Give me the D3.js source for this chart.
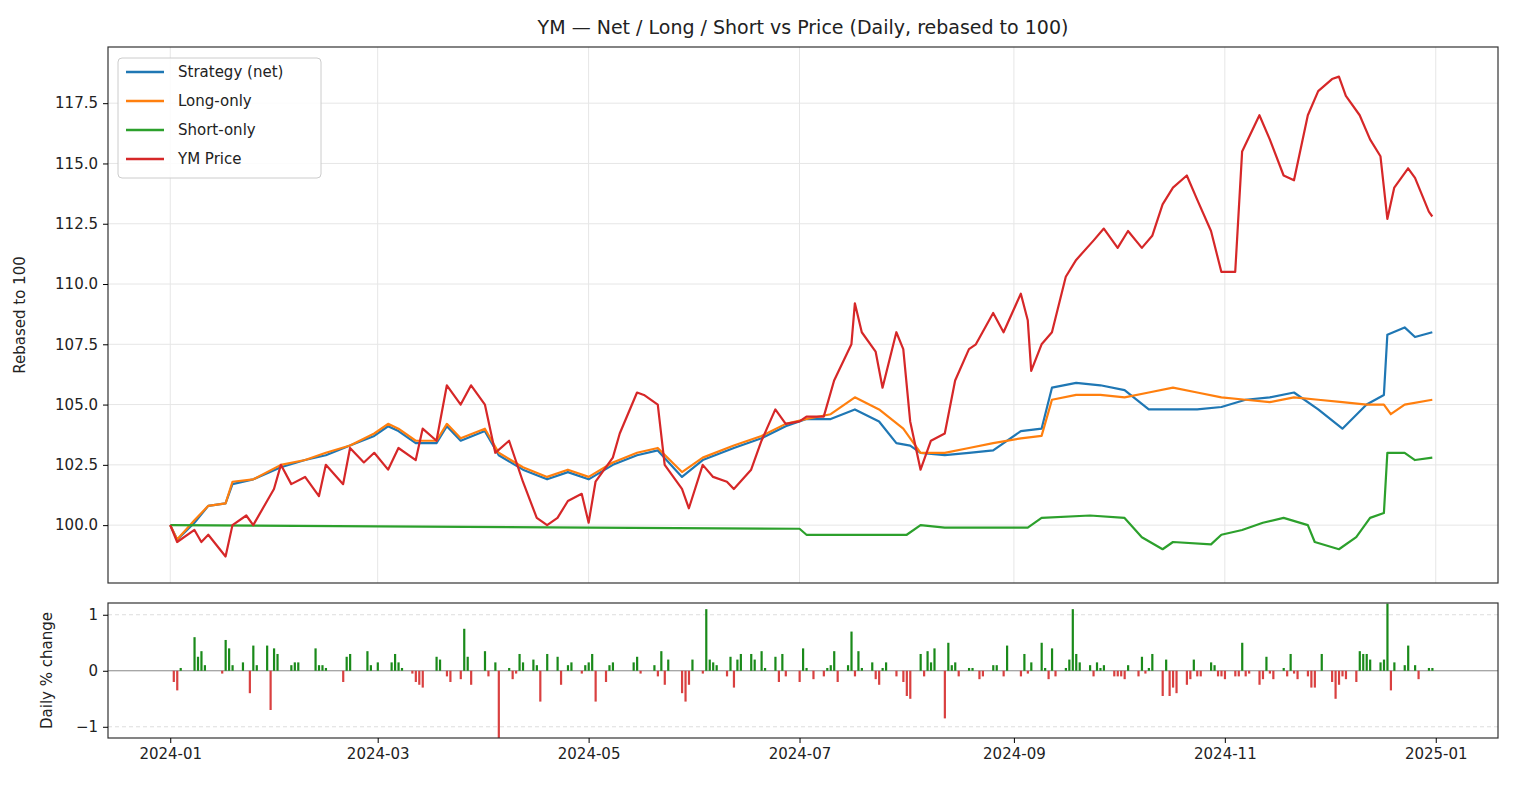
<!DOCTYPE html>
<html>
<head>
<meta charset="utf-8">
<script src="https://cdn.jsdelivr.net/npm/d3@7"></script>
<style>
body { margin: 0; background: #fff; }
svg { font-family: "DejaVu Sans", sans-serif; }
</style>
</head>
<body>
<svg id="chart" width="1524" height="786"></svg>
<script>
// ---- data ----
const priceSeries = [
  ["01-01",100],["01-03",99.3],["01-08",99.8],["01-10",99.3],["01-12",99.6],["01-17",98.7],["01-19",100.0],["01-23",100.4],
  ["01-25",100.0],["01-29",101.0],["01-31",101.5],["02-02",102.5],["02-05",101.7],["02-09",102.0],["02-13",101.2],["02-15",102.5],
  ["02-20",101.7],["02-22",103.2],["02-26",102.6],["02-29",103.0],["03-04",102.3],["03-07",103.2],["03-12",102.7],["03-14",104.0],
  ["03-18",103.5],["03-21",105.8],["03-25",105.0],["03-28",105.8],["04-01",105.0],["04-04",103.0],["04-08",103.5],["04-12",101.8],
  ["04-16",100.3],["04-19",100.0],["04-22",100.3],["04-25",101.0],["04-29",101.3],["05-01",100.1],["05-03",101.8],["05-08",102.8],
  ["05-10",103.8],["05-15",105.5],["05-17",105.4],["05-21",105.0],["05-23",102.5],["05-28",101.5],["05-30",100.7],["06-03",102.5],
  ["06-06",102.0],["06-10",101.8],["06-12",101.5],["06-17",102.3],["06-20",103.5],["06-24",104.8],["06-27",104.2],["07-01",104.3],
  ["07-03",104.5],["07-08",104.5],["07-11",106.0],["07-16",107.5],["07-17",109.2],["07-19",108.0],["07-23",107.2],["07-25",105.7],
  ["07-29",108.0],["07-31",107.3],["08-02",104.3],["08-05",102.3],["08-08",103.5],["08-12",103.8],["08-15",106.0],["08-19",107.3],
  ["08-21",107.5],["08-26",108.8],["08-29",108.0],["09-03",109.6],["09-05",108.5],["09-06",106.4],["09-09",107.5],["09-12",108.0],
  ["09-16",110.3],["09-19",111.0],["09-24",111.8],["09-27",112.3],["10-01",111.5],["10-04",112.2],["10-08",111.5],["10-11",112.0],
  ["10-14",113.3],["10-17",114.0],["10-21",114.5],["10-24",113.5],["10-28",112.2],["10-31",110.5],["11-04",110.5],["11-06",115.5],
  ["11-11",117.0],["11-14",116.0],["11-18",114.5],["11-21",114.3],["11-25",117.0],["11-28",118.0],["12-02",118.5],["12-04",118.6],
  ["12-06",117.8],["12-10",117.0],["12-13",116.0],["12-16",115.3],["12-18",112.7],["12-20",114.0],["12-24",114.8],["12-26",114.4],
  ["12-30",113.0],["12-31",112.8]
];
const longSeries = [
  ["01-01",100],["01-03",99.4],["01-08",100.2],["01-12",100.8],["01-17",100.9],["01-19",101.8],["01-25",101.9],["02-02",102.5],
  ["02-09",102.7],["02-15",103.0],["02-22",103.3],["02-29",103.8],["03-04",104.2],["03-07",104.0],["03-12",103.5],["03-18",103.5],
  ["03-21",104.2],["03-25",103.6],["04-01",104.0],["04-05",103.0],["04-12",102.4],["04-19",102.0],["04-25",102.3],["05-01",102.0],
  ["05-08",102.6],["05-15",103.0],["05-21",103.2],["05-28",102.2],["06-03",102.8],["06-12",103.3],["06-20",103.7],["06-27",104.2],
  ["07-03",104.4],["07-10",104.6],["07-17",105.3],["07-24",104.8],["07-31",104.0],["08-05",103.0],["08-12",103.0],["08-19",103.2],
  ["08-26",103.4],["09-03",103.6],["09-09",103.7],["09-12",105.2],["09-19",105.4],["09-26",105.4],["10-03",105.3],["10-10",105.5],
  ["10-17",105.7],["10-24",105.5],["10-31",105.3],["11-07",105.2],["11-14",105.1],["11-21",105.3],["11-28",105.2],["12-05",105.1],
  ["12-12",105.0],["12-17",105.0],["12-19",104.6],["12-23",105.0],["12-31",105.2]
];
const netSeries = [
  ["01-01",100],["01-03",99.4],["01-08",100.1],["01-12",100.8],["01-17",100.9],["01-19",101.7],["01-25",101.9],["02-02",102.4],
  ["02-09",102.7],["02-15",102.9],["02-22",103.3],["02-29",103.7],["03-04",104.1],["03-07",103.9],["03-12",103.4],["03-18",103.4],
  ["03-21",104.1],["03-25",103.5],["04-01",103.9],["04-05",102.9],["04-12",102.3],["04-19",101.9],["04-25",102.2],["05-01",101.9],
  ["05-08",102.5],["05-15",102.9],["05-21",103.1],["05-28",102.0],["06-03",102.7],["06-12",103.2],["06-20",103.6],["06-27",104.1],
  ["07-03",104.4],["07-10",104.4],["07-17",104.8],["07-24",104.3],["07-29",103.4],["08-02",103.3],["08-05",103.0],["08-12",102.9],
  ["08-19",103.0],["08-26",103.1],["09-03",103.9],["09-09",104.0],["09-12",105.7],["09-19",105.9],["09-26",105.8],["10-03",105.6],
  ["10-10",104.8],["10-17",104.8],["10-24",104.8],["10-31",104.9],["11-07",105.2],["11-14",105.3],["11-21",105.5],["11-28",104.8],
  ["12-05",104.0],["12-12",105.0],["12-17",105.4],["12-18",107.9],["12-23",108.2],["12-26",107.8],["12-31",108.0]
];
const shortSeries = [
  ["01-01",100],["03-01",99.95],["05-01",99.9],["07-01",99.85],["07-03",99.6],["08-01",99.6],["08-05",100.0],["08-12",99.9],
  ["09-05",99.9],["09-09",100.3],["09-23",100.4],["10-03",100.3],["10-08",99.5],["10-14",99.0],["10-17",99.3],["10-28",99.2],
  ["10-31",99.6],["11-06",99.8],["11-12",100.1],["11-18",100.3],["11-25",100.0],["11-27",99.3],["12-04",99.0],["12-09",99.5],
  ["12-13",100.3],["12-17",100.5],["12-18",103.0],["12-23",103.0],["12-26",102.7],["12-31",102.8]
];
const dailyChange = [
  ["01-02",-0.2],["01-03",-0.35],["01-04",0.05],["01-08",0.6],["01-09",0.25],["01-10",0.35],["01-11",0.1],["01-16",-0.05],
  ["01-17",0.55],["01-18",0.4],["01-19",0.1],["01-22",0.15],["01-24",-0.4],["01-25",0.45],["01-26",0.1],["01-29",0.45],
  ["01-30",-0.7],["01-31",0.4],["02-01",0.3],["02-05",0.1],["02-06",0.15],["02-07",0.15],["02-12",0.4],["02-13",0.1],
  ["02-14",0.1],["02-15",0.05],["02-20",-0.2],["02-21",0.25],["02-22",0.3],["02-27",0.35],["02-28",0.1],["03-01",0.15],
  ["03-05",0.15],["03-06",0.3],["03-07",0.15],["03-08",0.05],["03-11",-0.05],["03-12",-0.2],["03-13",-0.25],["03-14",-0.3],
  ["03-18",0.25],["03-19",0.2],["03-21",-0.1],["03-22",-0.2],["03-25",-0.15],["03-26",0.75],["03-27",0.25],["03-28",-0.25],
  ["04-01",0.35],["04-02",-0.1],["04-04",0.15],["04-05",-1.2],["04-08",0.05],["04-09",-0.15],["04-10",-0.05],["04-11",0.3],
  ["04-12",0.15],["04-15",0.2],["04-16",0.1],["04-17",-0.55],["04-19",0.3],["04-22",0.25],["04-23",-0.25],["04-25",0.1],
  ["04-26",0.15],["04-29",-0.05],["04-30",0.1],["05-01",0.15],["05-02",0.3],["05-03",-0.55],["05-06",-0.2],["05-07",0.1],
  ["05-08",0.15],["05-14",0.15],["05-15",0.25],["05-16",-0.05],["05-20",0.1],["05-21",-0.1],["05-22",0.35],["05-23",-0.25],
  ["05-24",0.2],["05-28",-0.4],["05-29",-0.55],["05-30",-0.25],["05-31",0.2],["06-03",-0.05],["06-04",1.1],["06-05",0.2],
  ["06-06",0.15],["06-07",0.1],["06-10",-0.1],["06-11",0.25],["06-12",-0.3],["06-13",0.2],["06-14",0.3],["06-17",0.3],
  ["06-18",0.2],["06-20",0.35],["06-21",0.05],["06-24",0.25],["06-25",-0.2],["06-26",0.3],["06-27",-0.1],["07-01",-0.2],
  ["07-02",0.4],["07-03",0.05],["07-05",-0.15],["07-08",-0.1],["07-09",0.05],["07-10",0.1],["07-11",0.35],["07-12",-0.2],
  ["07-15",0.1],["07-16",0.7],["07-17",-0.1],["07-18",0.35],["07-19",0.05],["07-22",0.15],["07-23",-0.15],["07-24",-0.25],
  ["07-25",0.05],["07-26",0.15],["07-29",-0.1],["07-31",-0.2],["08-01",-0.45],["08-02",-0.5],["08-05",0.3],["08-06",-0.1],
  ["08-07",0.35],["08-08",0.15],["08-09",0.4],["08-12",-0.85],["08-13",0.5],["08-14",0.1],["08-15",0.15],["08-16",-0.1],
  ["08-19",0.05],["08-20",0.05],["08-22",-0.15],["08-23",-0.1],["08-26",0.1],["08-27",0.1],["08-29",-0.1],["08-30",0.45],
  ["09-03",-0.1],["09-04",0.3],["09-05",-0.05],["09-06",0.15],["09-09",0.5],["09-10",0.05],["09-11",-0.15],["09-12",0.4],
  ["09-13",-0.1],["09-16",0.05],["09-17",0.2],["09-18",1.1],["09-19",0.3],["09-20",0.15],["09-23",0.1],["09-24",-0.1],
  ["09-25",0.15],["09-26",0.05],["09-27",0.1],["09-30",-0.1],["10-01",-0.1],["10-02",-0.1],["10-03",-0.15],["10-04",0.1],
  ["10-07",-0.1],["10-08",0.25],["10-09",-0.05],["10-10",0.05],["10-11",0.3],["10-14",-0.45],["10-15",0.2],["10-16",-0.45],
  ["10-17",-0.3],["10-18",-0.4],["10-21",-0.25],["10-22",-0.15],["10-23",0.2],["10-24",-0.1],["10-25",-0.1],["10-28",0.15],
  ["10-29",0.1],["10-30",-0.1],["10-31",-0.1],["11-01",-0.15],["11-04",-0.1],["11-05",-0.1],["11-06",0.5],["11-07",-0.1],
  ["11-08",-0.05],["11-11",-0.25],["11-12",-0.15],["11-13",0.25],["11-14",-0.05],["11-15",-0.15],["11-18",0.05],["11-19",-0.1],
  ["11-20",0.3],["11-21",-0.05],["11-22",-0.15],["11-25",-0.1],["11-26",-0.3],["11-27",-0.3],["11-29",0.3],["12-02",-0.2],
  ["12-03",-0.5],["12-04",-0.25],["12-05",-0.1],["12-06",-0.15],["12-09",-0.2],["12-10",0.35],["12-11",0.3],["12-12",0.3],
  ["12-13",0.2],["12-16",0.15],["12-17",0.2],["12-18",1.2],["12-19",-0.35],["12-20",0.15],["12-23",0.1],["12-24",0.45],
  ["12-26",0.1],["12-27",-0.15],["12-30",0.05],["12-31",0.05]
];
const mainTicks = [100, 102.5, 105, 107.5, 110, 112.5, 115, 117.5];
const dailyTicks = [-1, 0, 1];
const monthTicks = ["2024-01-01","2024-03-01","2024-05-01","2024-07-01","2024-09-01","2024-11-01","2025-01-01"];
const seriesNames = ["Strategy (net)", "Long-only", "Short-only", "YM Price"];
const seriesColors = ["#1f77b4", "#ff7f0e", "#2ca02c", "#d62728"];

const parse = d3.timeParse("%Y-%m-%d");
const toDate = md => parse("2024-" + md);

const svg = d3.select("#chart");
const left = 108, right = 1498;
const top1 = 47, bot1 = 583, top2 = 603, bot2 = 738;

const x = d3.scaleTime().domain([parse("2023-12-14"), parse("2025-01-19")]).range([left, right]);
const y = d3.scaleLinear().domain([97.6, 119.83]).range([bot1, top1]);
const y2 = d3.scaleLinear().domain([-1.2, 1.21]).range([bot2, top2]);

svg.append("text").attr("x", (left + right) / 2).attr("y", 34).attr("text-anchor", "middle")
  .attr("font-size", 19).attr("fill", "#222").text("YM — Net / Long / Short vs Price (Daily, rebased to 100)");

// grid main
const g1 = svg.append("g");
g1.selectAll(".vg").data(monthTicks).enter().append("line")
  .attr("x1", d => x(parse(d))).attr("x2", d => x(parse(d))).attr("y1", top1).attr("y2", bot1)
  .attr("stroke", "#e6e6e6").attr("stroke-width", 1);
g1.selectAll(".hg").data(mainTicks).enter().append("line")
  .attr("x1", left).attr("x2", right).attr("y1", d => y(d)).attr("y2", d => y(d))
  .attr("stroke", "#e6e6e6").attr("stroke-width", 1);

// lines
const line = d3.line().x(d => x(toDate(d[0]))).y(d => y(d[1]));
const allSeries = [netSeries, longSeries, shortSeries, priceSeries];
allSeries.forEach((s, i) => {
  svg.append("path").datum(s).attr("d", line).attr("fill", "none")
    .attr("stroke", seriesColors[i]).attr("stroke-width", 2.2).attr("stroke-linejoin", "round");
});

svg.append("rect").attr("x", left).attr("y", top1).attr("width", right - left).attr("height", bot1 - top1)
  .attr("fill", "none").attr("stroke", "#333").attr("stroke-width", 1.2);

const yAxis = d3.axisLeft(y).tickValues(mainTicks).tickFormat(d3.format(".1f")).tickSize(5).tickPadding(5);
svg.append("g").attr("transform", `translate(${left},0)`).call(yAxis)
  .call(g => g.select(".domain").remove())
  .selectAll("text").attr("font-size", 15).attr("fill", "#222").attr("font-family", "DejaVu Sans");

svg.append("text").attr("transform", `translate(25,${(top1 + bot1) / 2}) rotate(-90)`)
  .attr("text-anchor", "middle").attr("font-size", 15).attr("fill", "#222").text("Rebased to 100");

// legend
const lg = svg.append("g").attr("transform", "translate(118,58)");
lg.append("rect").attr("width", 203).attr("height", 120).attr("rx", 4)
  .attr("fill", "#fff").attr("fill-opacity", 0.85).attr("stroke", "#ccc");
seriesNames.forEach((n, i) => {
  const yy = 14 + i * 29;
  lg.append("line").attr("x1", 8).attr("x2", 46).attr("y1", yy).attr("y2", yy)
    .attr("stroke", seriesColors[i]).attr("stroke-width", 2.5);
  lg.append("text").attr("x", 60).attr("y", yy + 5).attr("font-size", 15).attr("fill", "#222").text(n);
});

// bottom panel
svg.append("line").attr("x1", left).attr("x2", right).attr("y1", y2(0)).attr("y2", y2(0))
  .attr("stroke", "#888").attr("stroke-width", 1);
[-1, 1].forEach(v => svg.append("line").attr("x1", left).attr("x2", right).attr("y1", y2(v)).attr("y2", y2(v))
  .attr("stroke", "#ddd").attr("stroke-dasharray", "4,3"));

svg.append("g").selectAll("rect").data(dailyChange).enter().append("rect")
  .attr("x", d => x(toDate(d[0])) - 1)
  .attr("width", 2.2)
  .attr("y", d => y2(Math.max(0, d[1])))
  .attr("height", d => Math.abs(y2(d[1]) - y2(0)))
  .attr("fill", d => d[1] >= 0 ? "#1a8a1a" : "#d94040");

svg.append("rect").attr("x", left).attr("y", top2).attr("width", right - left).attr("height", bot2 - top2)
  .attr("fill", "none").attr("stroke", "#333").attr("stroke-width", 1.2);

svg.append("g").attr("transform", `translate(${left},0)`)
  .call(d3.axisLeft(y2).tickValues(dailyTicks).tickFormat(d3.format("d")).tickSize(5).tickPadding(5))
  .call(g => g.select(".domain").remove())
  .selectAll("text").attr("font-size", 15).attr("fill", "#222").attr("font-family", "DejaVu Sans");

svg.append("text").attr("transform", `translate(52,${(top2 + bot2) / 2}) rotate(-90)`)
  .attr("text-anchor", "middle").attr("font-size", 15).attr("fill", "#222").text("Daily % change");

svg.append("g").attr("transform", `translate(0,${bot2})`)
  .call(d3.axisBottom(x).tickValues(monthTicks.map(parse)).tickFormat(d3.timeFormat("%Y-%m")).tickSize(5).tickPadding(5))
  .call(g => g.select(".domain").remove())
  .selectAll("text").attr("font-size", 15).attr("fill", "#222").attr("font-family", "DejaVu Sans");
</script>
</body>
</html>
